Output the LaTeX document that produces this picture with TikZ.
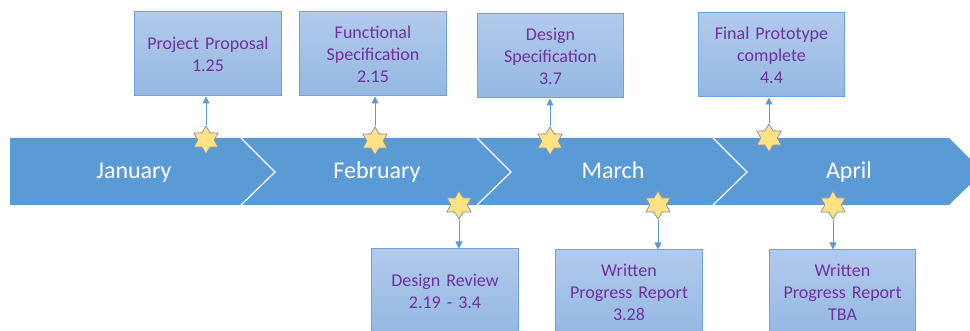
\documentclass[tikz,border=0pt]{standalone}
\usepackage{fontspec}
\setmainfont{Carlito}
\usepackage{tikz}
\usetikzlibrary{shapes.geometric, arrows.meta, positioning, calc}
\definecolor{bandblue}{RGB}{91,155,213}
\definecolor{boxtop}{RGB}{178,202,236}
\definecolor{boxbot}{RGB}{148,184,226}
\definecolor{boxedge}{RGB}{110,162,220}
\definecolor{mypurple}{RGB}{112,48,160}
\definecolor{staryellow}{RGB}{255,226,132}
\definecolor{staredge}{RGB}{140,150,168}
\tikzset{
  eventbox/.style={rectangle, draw=boxedge, top color=boxtop, bottom color=boxbot,
    minimum width=144pt, minimum height=84pt, text width=140pt, align=center,
    font=\fontsize{18}{22}\selectfont, text=mypurple, line width=1pt},
  month/.style={font=\fontsize{24}{28}\selectfont, text=white, anchor=base},
  milestone/.style={star, star points=6, star point ratio=1.7, minimum size=28pt,
    inner sep=0pt, draw=staredge, fill=staryellow, line width=0.8pt},
  arrow/.style={-{Triangle[length=7pt, width=7pt]}, line width=1pt, color=bandblue},
  sep/.style={white, line width=1.2pt}
}
\begin{document}
\begin{tikzpicture}[x=1pt, y=1pt]
  \useasboundingbox (0,0) rectangle (970,331);

  % timeline band
  \fill[bandblue] (10,193) -- (949,193) -- (983,159) -- (949,126) -- (10,126) -- cycle;
  \foreach \x in {241,477,713}
    \draw[sep] (\x,193) -- (\x+34,159) -- (\x,126);

  \node[month] (jan) at (134,152) {January};
  \node[month] (feb) at (377,152) {February};
  \node[month] (mar) at (613,152) {March};
  \node[month] (apr) at (849,152) {April};

  % milestones above
  \node[eventbox] (proposal) at (208,277) {Project Proposal\\1.25};
  \node[eventbox] (funcspec) at (373,277) {Functional\\Specification\\2.15};
  \node[eventbox] (designspec) at (550.5,275) {Design\\Specification\\3.7};
  \node[eventbox] (prototype) at (771.5,276) {Final Prototype\\complete\\4.4};

  % milestones below
  \node[eventbox] (review) at (445,40) {Design Review\\2.19 - 3.4};
  \node[eventbox] (report) at (629,39) {Written\\Progress Report\\3.28};
  \node[eventbox] (reporttba) at (842.5,39) {Written\\Progress Report\\TBA};

  \node[milestone] (s1) at (206,191) {};
  \node[milestone] (s2) at (375,190) {};
  \node[milestone] (s3) at (459,126) {};
  \node[milestone] (s4) at (550,190) {};
  \node[milestone] (s5) at (658,126) {};
  \node[milestone] (s6) at (769,193) {};
  \node[milestone] (s7) at (833,126) {};

  \draw[arrow] (s1) -- (s1 |- proposal.south);
  \draw[arrow] (s2) -- (s2 |- funcspec.south);
  \draw[arrow] (s4) -- (s4 |- designspec.south);
  \draw[arrow] (s6) -- (s6 |- prototype.south);
  \draw[arrow] (s3) -- (s3 |- review.north);
  \draw[arrow] (s5) -- (s5 |- report.north);
  \draw[arrow] (s7) -- (s7 |- reporttba.north);
\end{tikzpicture}
\end{document}
